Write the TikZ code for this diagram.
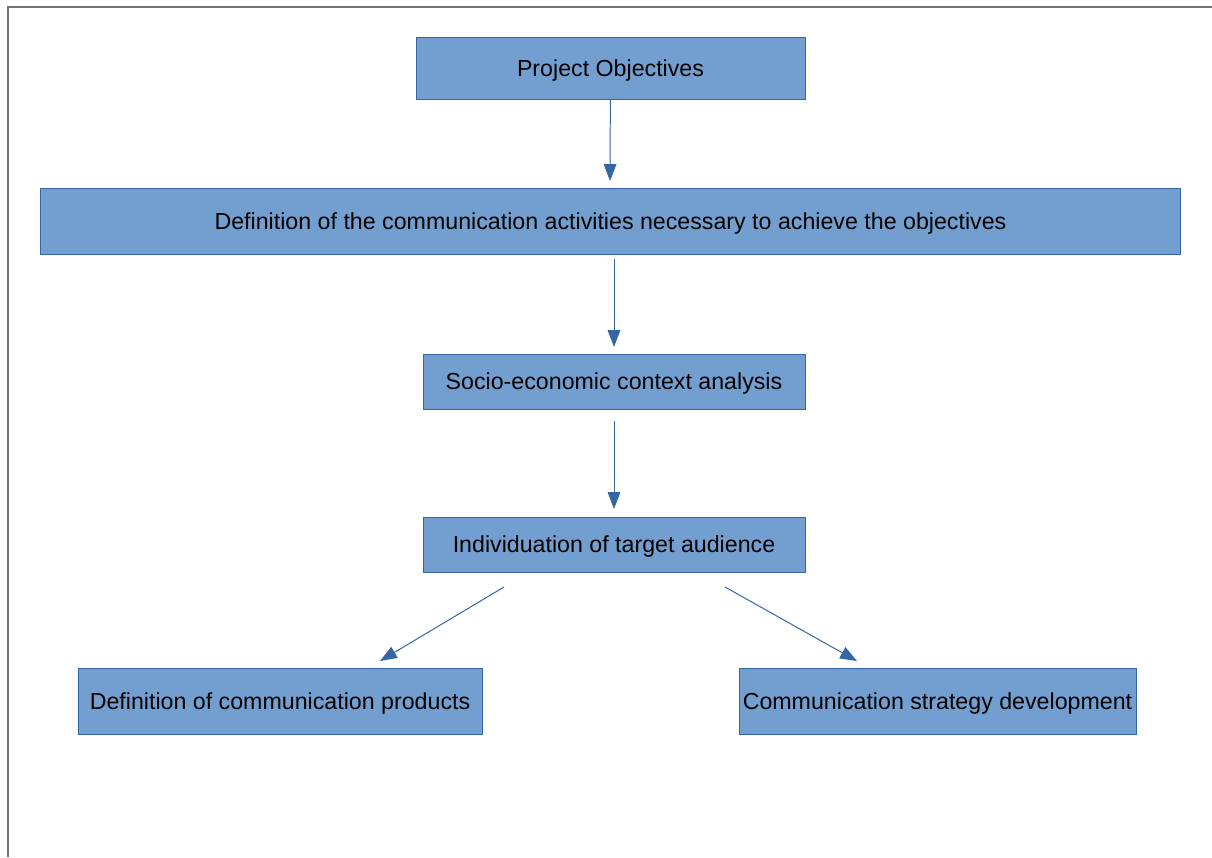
\documentclass[tikz,border=0pt]{standalone}
\usepackage{fontspec}
\setmainfont{Liberation Sans}
\usetikzlibrary{arrows.meta}
\definecolor{boxfill}{HTML}{729FCF}
\definecolor{boxline}{HTML}{3465A4}

\begin{document}
\begin{tikzpicture}[x=0.025cm,y=-0.025cm,
  box/.style={rectangle,draw=boxline,fill=boxfill,line width=0.6pt,inner sep=0pt,
    text height=14pt,text depth=2.2pt,font=\fontsize{16.5}{19}\selectfont},
  >={Triangle[width=9pt,length=12pt]},
  every path/.style={line width=0.7pt}]

  \useasboundingbox (0,0) rectangle (1212,857);
  \draw[gray!90!black,line width=1.4pt] (8,857) -- (8,7) -- (1212,7);

  \node[box,minimum width=9.725cm,minimum height=1.55cm] at (610.5,68) (PO) {Project Objectives};
  \node[box,minimum width=28.475cm,minimum height=1.65cm] at (610.5,221) (DA) {Definition of the communication activities necessary to achieve the objectives};
  \node[box,minimum width=9.55cm,minimum height=1.375cm] at (614,381.5) (SE) {Socio-economic context analysis};
  \node[box,minimum width=9.55cm,minimum height=1.375cm] at (614,544.5) (IT) {Individuation of target audience};
  \node[box,minimum width=10.1cm,minimum height=1.65cm] at (280,701) (DP) {Definition of communication products};
  \node[box,minimum width=9.925cm,minimum height=1.65cm] at (937.5,701) (CS) {Communication strategy development};

  \coordinate (e1) at (610,181);
  \coordinate (s2) at (614,259);
  \coordinate (e2) at (614,347);
  \coordinate (s3) at (614,421);
  \coordinate (e3) at (614,509);
  \coordinate (s4) at (504,587);
  \coordinate (e4) at (380,661);
  \coordinate (s5) at (725,587);
  \coordinate (e5) at (857,661);

  \draw[->,boxline] (PO) -- (e1);
  \draw[->,boxline] (s2) -- (e2);
  \draw[->,boxline] (s3) -- (e3);
  \draw[->,boxline] (s4) -- (e4);
  \draw[->,boxline] (s5) -- (e5);

\end{tikzpicture}
\end{document}
